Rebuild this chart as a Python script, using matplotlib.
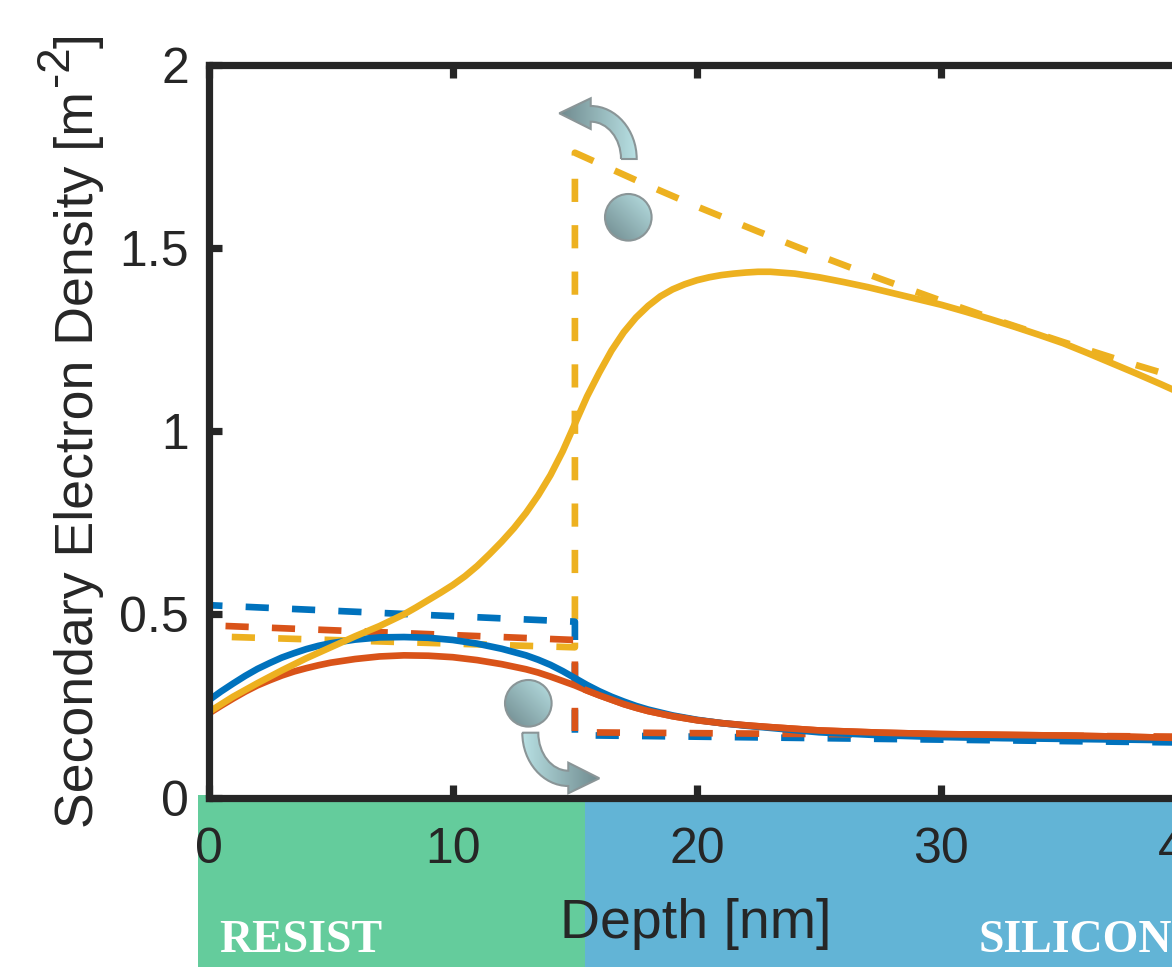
import numpy as np
import matplotlib
matplotlib.use('Agg')
import matplotlib.pyplot as plt
from matplotlib.colors import LinearSegmentedColormap
from matplotlib.patches import PathPatch, Circle, Rectangle
from matplotlib.path import Path

plt.rcParams['font.family'] = ['Liberation Sans', 'DejaVu Sans']
plt.rcParams['lines.scale_dashes'] = False

blue_x = [0, .5, 1, 1.5, 2, 2.5, 3, 3.5, 4, 4.5, 5, 6, 7, 8, 9, 10, 11, 12, 13, 13.5, 14, 14.5, 15, 15.5,
          16, 16.5, 17, 17.5, 18, 19, 20, 21, 22, 23, 25, 27.5, 30, 32.5, 35, 37.5, 40]
blue_y = [.265, .289, .311, .332, .351, .367, .382, .394, .405, .414, .421, .431, .437, .438, .436, .43, .42,
          .406, .388, .376, .362, .345, .326, .307, .29, .275, .262, .25, .24, .224, .212, .203, .196, .19,
          .178, .17, .165, .162, .16, .158, .156]

red_x = blue_x
red_y = [.229, .25, .27, .289, .306, .32, .333, .344, .353, .361, .368, .378, .385, .388, .387, .383, .375,
         .364, .35, .341, .33, .318, .306, .292, .279, .267, .255, .245, .236, .222, .211, .203, .197, .192,
         .183, .177, .173, .171, .169, .166, .162]

yellow_x = [0, 1, 2, 3, 4, 5, 6, 7, 8, 8.5, 9, 9.5, 10, 10.5, 11, 11.5, 12, 12.5, 13, 13.5, 14, 14.5, 15,
            15.5, 16, 16.5, 17, 17.5, 18, 18.5, 19, 19.5, 20, 20.5, 21, 21.5, 22, 22.5, 23, 24, 25, 26, 27,
            28, 29, 30, 31, 32, 33, 34, 35, 36, 37, 38, 39, 40]
yellow_y = [.233, .275, .312, .347, .38, .41, .44, .468, .50, .519, .539, .559, .58, .604, .632, .664, .698,
            .735, .777, .825, .88, .945, 1.02, 1.095, 1.16, 1.22, 1.27, 1.31, 1.342, 1.368, 1.387, 1.401,
            1.412, 1.42, 1.426, 1.43, 1.433, 1.435, 1.435, 1.43, 1.42, 1.407, 1.393, 1.377, 1.361, 1.345,
            1.326, 1.306, 1.285, 1.263, 1.24, 1.213, 1.185, 1.157, 1.128, 1.098]

dash_x = [0, 15, 15, 40]
dash_blue = [.525, .48, .17, .15]
dash_red = [.47, .43, .178, .166]
dash_yellow_x = [0, 15, 15, 17.5, 20, 22.5, 25, 27.5, 30, 32.5, 35, 37.5, 40]
dash_yellow = [.44, .41, 1.76, 1.685, 1.613, 1.545, 1.479, 1.416, 1.356, 1.298, 1.243, 1.19, 1.14]

x_ticks = [0, 10, 20, 30, 40]
y_ticks = [0, .5, 1, 1.5, 2]
y_tick_labels = ['0', '0.5', '1', '1.5', '2']

BLUE = '#0072BD'
RED = '#D95319'
YELLOW = '#EDB120'
INK = '#262626'
W, H = 1172, 975

fig = plt.figure(figsize=(W / 100, H / 100), dpi=100)

# coloured material bands sit behind the axes, in pixels
def band(x0, x1, y0, y1, color):
    fig.add_artist(Rectangle((x0 / W, 1 - y1 / H), (x1 - x0) / W, (y1 - y0) / H,
                             transform=fig.transFigure, facecolor=color, edgecolor='none', zorder=-1))

band(198, 586, 795, 967, '#64CC9C')
band(585, W, 797, 967, '#62B4D6')

# axes runs off the right edge of the figure like the cropped original
ax = fig.add_axes([208.6 / W, 1 - 797.5 / H, (1185.4 - 208.6) / W, (797.5 - 64.8) / H])
ax.set_xlim(0, 40)
ax.set_ylim(0, 2)

ax.plot(dash_yellow_x, dash_yellow, color=YELLOW, lw=4.8, linestyle=(16.7, (16.7, 16.7)), dash_capstyle='butt')
ax.plot(dash_x, dash_blue, color=BLUE, lw=4.8, linestyle=(6.7, (16.7, 16.7)), dash_capstyle='butt')
ax.plot(dash_x, dash_red, color=RED, lw=4.8, linestyle=(21.2, (16.7, 16.7)), dash_capstyle='butt')
ax.plot(red_x, red_y, color=RED, lw=4.8)
ax.plot(blue_x, blue_y, color=BLUE, lw=4.8)
# past the interface the red curve lies on top of the blue one
k = red_x.index(15.5)
ax.plot(red_x[k:], red_y[k:], color=RED, lw=4.8)
ax.plot(yellow_x, yellow_y, color=YELLOW, lw=4.8)

ax.set_xticks(x_ticks)
ax.set_yticks(y_ticks)
ax.set_yticklabels(y_tick_labels)
ax.tick_params(direction='in', length=9.5, width=5.2, color=INK, labelcolor=INK,
               labelsize=36, top=True, right=True)
ax.tick_params(axis='x', pad=21)
ax.tick_params(axis='y', pad=14)
for s in ax.spines.values():
    s.set_linewidth(5.2)
    s.set_color(INK)

def label(px, py, txt, size, **kw):
    fig.text(px / W, 1 - py / H, txt, fontsize=size, color=INK, ha='left', va='baseline',
             rotation_mode='anchor', **kw)

label(560, 938, 'Depth [nm]', 40)
label(93, 828, 'Secondary Electron Density [m', 38.6, rotation=90)
label(68, 86, '-2', 33, rotation=90)
label(93, 48, ']', 38.6, rotation=90)
fig.text(301 / W, 1 - 952 / H, 'RESIST', fontsize=33, color='white', family='Liberation Serif',
         weight='bold', ha='center', va='baseline')
fig.text(1075 / W, 1 - 952 / H, 'SILICON', fontsize=33, color='white', family='Liberation Serif',
         weight='bold', ha='center', va='baseline')

# electrons and arrows, drawn in pixel coordinates on a full figure overlay
ov = fig.add_axes([0, 0, 1, 1])
ov.patch.set_alpha(0)
ov.axis('off')
shade = LinearSegmentedColormap.from_list('shade', ['#6F8A8E', '#B8E0E3'])

def shaded(patch, box, dx, dy):
    x0, x1, y0, y1 = box
    xx, yy = np.meshgrid(np.linspace(0, 1, 60), np.linspace(0, 1, 60))
    g = xx * dx + yy * dy
    g = (g - g.min()) / (g.max() - g.min())
    im = ov.imshow(g, extent=(x0, x1, y1, y0), origin='upper', cmap=shade, aspect='auto', zorder=5)
    ov.add_patch(patch)
    im.set_clip_path(patch)

M, L, C = Path.MOVETO, Path.LINETO, Path.CURVE4

low_arrow = Path([(522.3, 732.7), (522.3, 762), (543, 786), (568.3, 786), (568.3, 793.3), (599.3, 778.3),
                  (568.3, 762.7), (568.3, 770.7), (551.8, 770.7), (538.3, 753.6), (538.3, 732.7), (522.3, 732.7)],
                 [M, C, C, C, L, L, L, L, C, C, C, L])
up_arrow = Path([(621, 159), (621, 138.5), (607.4, 121.7), (590.7, 121.7), (590.7, 129), (559.3, 113.3),
                 (590.7, 98.3), (590.7, 106), (616, 106), (636.7, 130), (636.7, 159), (621, 159)],
                [M, C, C, C, L, L, L, L, C, C, C, L])

def outline(p):
    return PathPatch(p, facecolor='none', edgecolor='#8A9597', lw=1.5, zorder=6)

shaded(outline(low_arrow), (522, 600, 732, 794), -1, 0)
shaded(outline(up_arrow), (559, 637, 98, 160), 1, 0)
for cx, cy in [(628.3, 217.3), (528.3, 703.3)]:
    r = 23.3
    shaded(Circle((cx, cy), r, facecolor='none', edgecolor='#8A9597', lw=1.5, zorder=6),
           (cx - r, cx + r, cy - r, cy + r), 1, -1)

ov.set_xlim(0, W)
ov.set_ylim(H, 0)

fig.savefig('out.png', dpi=100)
